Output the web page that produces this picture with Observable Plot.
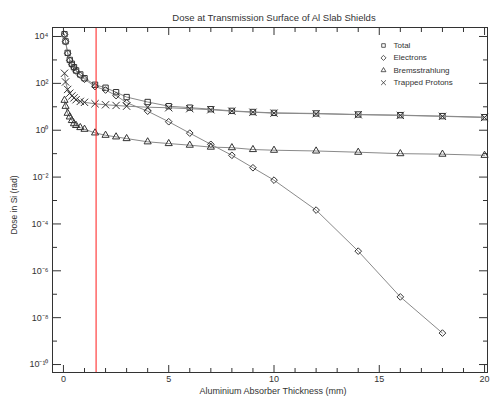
<!DOCTYPE html>
<html><head><meta charset="utf-8">
<script src="https://cdn.jsdelivr.net/npm/d3@7"></script>
<script src="https://cdn.jsdelivr.net/npm/@observablehq/plot@0.6"></script>
<style>body{margin:0;background:#fff}svg{display:block}</style>
</head><body><div id="chart"></div>
<script>
// Aluminium absorber thickness (mm)
const thickness = [0.05,0.1,0.2,0.3,0.4,0.5,0.6,0.8,1.0,1.5,2.0,2.5,3.0,4.0,5.0,6.0,7.0,8.0,9.0,10,12,14,16,18,20];
// Dose in Si (rad)
const total = [12500,6200,2000,1000,680,490,355,240,166,87,65,42,26,16,10.6,9.2,7.9,6.7,6.0,5.5,5.2,4.7,4.4,4.0,3.6];
const electrons = [12200,6000,1930,960,645,462,333,222,150,73,52,30,15,6.5,2.3,0.75,0.25,0.085,0.025,0.0074,3.9e-4,6.9e-6,7.7e-8,2.2e-9,null];
const bremsstrahlung = [19,10.5,5.3,3.7,2.6,1.9,1.6,1.3,1.1,0.77,0.61,0.52,0.44,0.32,0.27,0.23,0.19,0.18,0.15,0.14,0.13,0.115,0.10,0.095,0.085];
const protons = [270,115,55,38,29,24,20,17,15.5,13.5,12.2,11.4,10.6,9.6,9.1,8.3,7.5,6.5,5.85,5.35,5.05,4.6,4.3,3.9,3.5];
const seriesNames = ["Total","Electrons","Bremsstrahlung","Trapped Protons"];
const seriesSymbols = ["square2","diamond2","triangle2","times"];
const seriesValues = [total, electrons, bremsstrahlung, protons];
const shieldLine = [1.55];
// tick values
const xMajor = [0,5,10,15,20];
const xMinor = d3.range(0,21).filter(v => v % 5 !== 0);
const yMajor = [1e4,1e2,1e0,1e-2,1e-4,1e-6,1e-8,1e-10];
const yMinor = [1e3,1e1,1e-1,1e-3,1e-5,1e-7,1e-9];
const titleText = "Dose at Transmission Surface of Al Slab Shields";
const xLabel = "Aluminium Absorber Thickness (mm)";
const yLabel = "Dose in Si (rad)";

const supMap = {"-":"⁻","0":"⁰","1":"¹","2":"²","3":"³","4":"⁴","5":"⁵","6":"⁶","7":"⁷","8":"⁸","9":"⁹"};
const fmtPow = d => "10" + String(Math.round(Math.log10(d))).split("").map(c => supMap[c]).join("");
const blank = () => "";

const ink = "#333";
const marks = [];
seriesValues.forEach((vals, s) => {
  const data = thickness.map((t, i) => ({t, v: vals[i]})).filter(d => d.v != null);
  marks.push(Plot.line(data, {x: "t", y: "v", stroke: "#8a8a8a", strokeWidth: 1}));
  marks.push(Plot.dot(data, {x: "t", y: "v", symbol: seriesSymbols[s], r: s === 1 ? 3 : 3.4, stroke: ink, strokeWidth: 1, fill: "none"}));
});
marks.push(Plot.ruleX(shieldLine, {stroke: "#ff1a1a", strokeWidth: 1}));
marks.push(Plot.frame({stroke: ink}));
// axes with inward ticks
marks.push(Plot.axisX(xMajor, {anchor: "bottom", tickSize: -7, tickPadding: 10, label: null, fontSize: 9, stroke: ink, fill: ink}));
marks.push(Plot.axisX(xMinor, {anchor: "bottom", tickSize: -4, tickFormat: blank, label: null, stroke: ink}));
marks.push(Plot.axisX(xMajor, {anchor: "top", tickSize: -7, tickFormat: blank, label: null, stroke: ink}));
marks.push(Plot.axisX(xMinor, {anchor: "top", tickSize: -4, tickFormat: blank, label: null, stroke: ink}));
marks.push(Plot.axisY(yMajor, {anchor: "left", tickSize: -9, tickPadding: 13, tickFormat: fmtPow, label: null, fontSize: 9, stroke: ink, fill: ink}));
marks.push(Plot.axisY(yMinor, {anchor: "left", tickSize: -5, tickFormat: blank, label: null, stroke: ink}));
marks.push(Plot.axisY(yMajor, {anchor: "right", tickSize: -9, tickFormat: blank, label: null, stroke: ink}));
marks.push(Plot.axisY(yMinor, {anchor: "right", tickSize: -5, tickFormat: blank, label: null, stroke: ink}));
// legend
seriesNames.forEach((name, i) => {
  const dy = 18 + 12.4 * i;
  marks.push(Plot.dot([name], {frameAnchor: "top-right", dx: -104, dy, symbol: seriesSymbols[i], r: 2.3, stroke: ink, strokeWidth: 0.8, fill: "none"}));
  marks.push(Plot.text([name], {text: d => d, frameAnchor: "top-right", dx: -94, dy, textAnchor: "start", lineAnchor: "middle", fontSize: 8, fill: ink}));
});
// title & axis labels
marks.push(Plot.text([titleText], {text: d => d, frameAnchor: "top", dx: 4, dy: -10, lineAnchor: "middle", textAnchor: "middle", fontSize: 9.5, fill: ink}));
marks.push(Plot.text([xLabel], {text: d => d, frameAnchor: "bottom", dx: 3, dy: 18.5, lineAnchor: "middle", textAnchor: "middle", fontSize: 9, fill: ink}));
marks.push(Plot.text([yLabel], {text: d => d, frameAnchor: "left", dx: -38, dy: 5, rotate: -90, textAnchor: "middle", lineAnchor: "middle", fontSize: 8.5, fill: ink}));

const chart = Plot.plot({
  width: 494,
  height: 396,
  marginTop: 27,
  marginBottom: 24,
  marginLeft: 52,
  marginRight: 7,
  style: {fontFamily: "'Liberation Sans', Arial, sans-serif", fontSize: "9px", color: ink, background: "#fff"},
  x: {domain: [-0.52, 20.14]},
  y: {type: "log", domain: [Math.pow(10, -10.34), Math.pow(10, 4.384)]},
  marks
});
document.getElementById("chart").appendChild(chart);
</script>
</body></html>
